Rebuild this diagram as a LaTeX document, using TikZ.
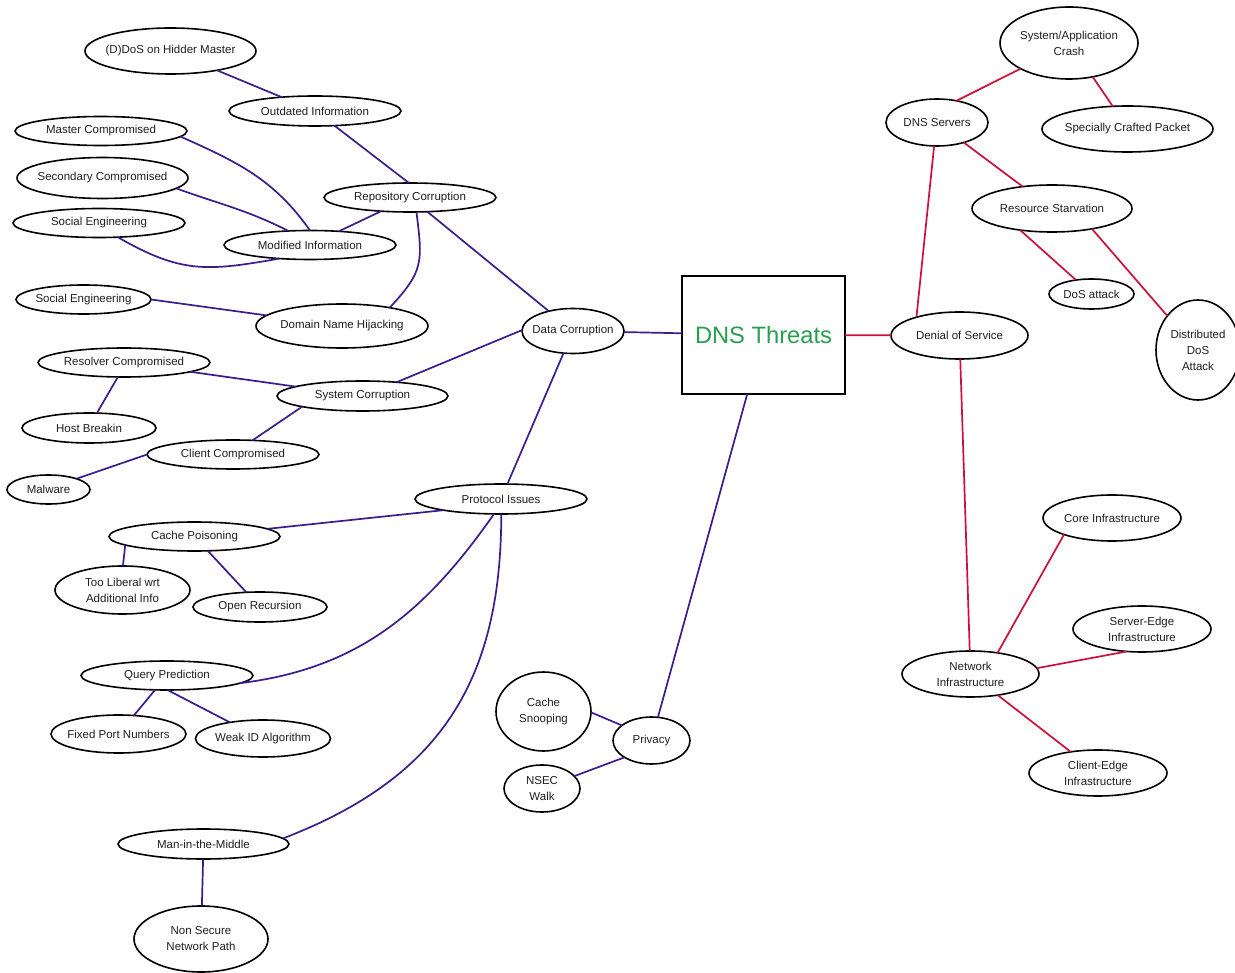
\documentclass[tikz,border=0pt]{standalone}
\usepackage{fontspec}
\setmainfont{Liberation Sans}
\usetikzlibrary{shapes.geometric}
\definecolor{lpurple}{RGB}{60,28,140}
\definecolor{lred}{RGB}{205,16,58}
\definecolor{dnsgreen}{RGB}{38,160,78}
\begin{document}
\begin{tikzpicture}[x=1pt,y=1pt,
  font=\fontsize{11.5}{16}\selectfont,
  ell/.style 2 args={ellipse,draw=black,line width=1.6pt,fill=white,inner sep=0pt,outer sep=0pt,minimum width=#1,minimum height=#2},
  every label/.style={align=center,inner sep=0pt,text=black!88},
  lp/.style={draw=lpurple,line width=1.7pt},
  lr/.style={draw=lred,line width=1.7pt}]
\useasboundingbox[fill=white] (0,0) rectangle (1235,-973);

% ---- left side nodes
\node[ell={171}{46},label=center:{(D)DoS on Hidder Master}] (ddos) at (170.5,-51) {};
\node[ell={172}{30},label=center:{Outdated Information}] (outd) at (315,-111) {};
\node[ell={172}{29},label=center:{Master Compromised}] (mastc) at (101,-131) {};
\node[ell={171}{41},label=center:{Secondary Compromised}] (secc) at (102.5,-178) {};
\node[ell={172}{29},label=center:{Social Engineering}] (soc1) at (99,-223) {};
\node[ell={172}{29},label=center:{Modified Information}] (modi) at (310,-245) {};
\node[ell={172}{29},label=center:{Repository Corruption}] (repo) at (410,-197.5) {};
\node[ell={135}{29},label=center:{Social Engineering}] (soc2) at (83.5,-299.5) {};
\node[ell={172}{44},label=center:{Domain Name Hijacking}] (dnh) at (342,-326) {};
\node[ell={102}{45},label=center:{Data Corruption}] (datac) at (573,-331) {};
\node[ell={172}{29},label=center:{Resolver Compromised}] (resc) at (124,-362.5) {};
\node[ell={171}{30},label=center:{System Corruption}] (sysc) at (362.5,-396) {};
\node[ell={134}{30},label=center:{Host Breakin}] (hostb) at (89,-428) {};
\node[ell={172}{29},label=center:{Client Compromised}] (clic) at (233,-454.5) {};
\node[ell={83}{29},label=center:{Malware}] (malw) at (48.5,-489.5) {};
\node[ell={172}{30},label=center:{Protocol Issues}] (proto) at (501,-499) {};
\node[ell={171}{29},label=center:{Cache Poisoning}] (cachep) at (194.5,-536.5) {};
\node[ell={135}{48},label=center:{Too Liberal wrt\\Additional Info}] (tooli) at (122.5,-590) {};
\node[ell={134}{30},label=center:{Open Recursion}] (openr) at (260,-607) {};
\node[ell={172}{29},label=center:{Query Prediction}] (queryp) at (167,-675.5) {};
\node[ell={135}{38},label=center:{Fixed Port Numbers}] (fixedp) at (118.5,-734) {};
\node[ell={135}{37},label=center:{Weak ID Algorithm}] (weakid) at (263,-738.5) {};
\node[ell={95}{79},label=center:{Cache\\Snooping}] (cachesn) at (543.5,-711.5) {};
\node[ell={77}{47},label=center:{Privacy}] (priv) at (651.5,-740.5) {};
\node[ell={76}{47},label=center:{NSEC\\Walk}] (nsec) at (542,-788.5) {};
\node[ell={171}{30},label=center:{Man-in-the-Middle}] (mitm) at (203.5,-844) {};
\node[ell={134}{66},label=center:{Non Secure\\Network Path}] (nonsec) at (201,-939) {};

% ---- centre
\node[draw=black,line width=2.6pt,fill=white,minimum width=163,minimum height=118,inner sep=0pt,outer sep=0pt,
      font=\fontsize{23.7}{28}\selectfont,text=dnsgreen] (dns) at (763.5,-335) {DNS Threats};

% ---- right side nodes
\node[ell={138}{72},label=center:{System/Application\\Crash}] (sysapp) at (1069,-43) {};
\node[ell={102}{47},label=center:{DNS Servers}] (dnss) at (937,-122.5) {};
\node[ell={171}{46},label=center:{Specially Crafted Packet}] (scp) at (1127.5,-129) {};
\node[ell={160}{47},label=center:{Resource Starvation}] (ress) at (1052,-208.5) {};
\node[ell={85}{30},label=center:{DoS attack}] (dosa) at (1091.5,-294) {};
\node[ell={137}{47},label=center:{Denial of Service}] (dos) at (959.5,-335.5) {};
\node[ell={84}{100},label=center:{Distributed\\DoS\\Attack}] (ddosa) at (1198,-350) {};
\node[ell={138}{46},label=center:{Core Infrastructure}] (core) at (1112,-518) {};
\node[ell={138}{46},label=center:{Server-Edge\\Infrastructure}] (sedge) at (1142,-629) {};
\node[ell={137}{46},label=center:{Network\\Infrastructure}] (neti) at (970.5,-674) {};
\node[ell={138}{46},label=center:{Client-Edge\\Infrastructure}] (cedge) at (1098,-773) {};

% ---- purple connectors
\draw[lp] (ddos) -- (outd);
\draw[lp] (outd.-37) -- (repo.94);
\draw[lp] (mastc.-4) to[out=-24,in=125] (modi.90);
\draw[lp] (secc.-8) to[out=-20,in=153] (modi.147);
\draw[lp] (soc1.-37) to[out=-30,in=190,looseness=1.15] (modi.204);
\draw[lp] (modi) -- (repo);
\draw[lp] (repo.-66) to[out=-83,in=47,looseness=1.3] (dnh.21);
\draw[lp] (repo) -- (datac);
\draw[lp] (soc2.0) -- (dnh.172);
\draw[lp] (datac) -- (dns);
\draw[lp] (sysc.22) -- (datac.179);
\draw[lp] (resc) -- (sysc);
\draw[lp] (resc.-113) -- (hostb.62);
\draw[lp] (sysc.190) -- (clic.36);
\draw[lp] (clic.180) -- (malw.21);
\draw[lp] (datac) -- (proto);
\draw[lp] (proto.191) -- (cachep.6);
\draw[lp] (cachep.187) -- (tooli.89);
\draw[lp] (cachep) -- (openr);
\draw[lp] (proto.-115) to[out=-125,in=7] (queryp.-6);
\draw[lp] (queryp) -- (fixedp);
\draw[lp] (queryp.-88) -- (weakid.154);
\draw[lp] (proto.-89) to[out=-90,in=21,looseness=1.1] (mitm.4);
\draw[lp] (mitm) -- (nonsec);
\draw[lp] (dns) -- (priv);
\draw[lp] (priv.153) -- (cachesn.-1);
\draw[lp] (priv.212) -- (nsec.21);

% ---- red connectors
\draw[lr] (dns) -- (dos);
\draw[lr] (dos.157) -- (dnss.-97);
\draw[lr] (dnss.48) -- (sysapp.208);
\draw[lr] (sysapp.-55) -- (scp.123);
\draw[lr] (dnss) -- (ress);
\draw[lr] (ress.214) -- (dosa.138);
\draw[lr] (ress.-27) -- (ddosa.132);
\draw[lr] (dos) -- (neti);
\draw[lr] (neti.38) -- (core.199);
\draw[lr] (neti.5) -- (sedge.236);
\draw[lr] (neti) -- (cedge);
\end{tikzpicture}
\end{document}
